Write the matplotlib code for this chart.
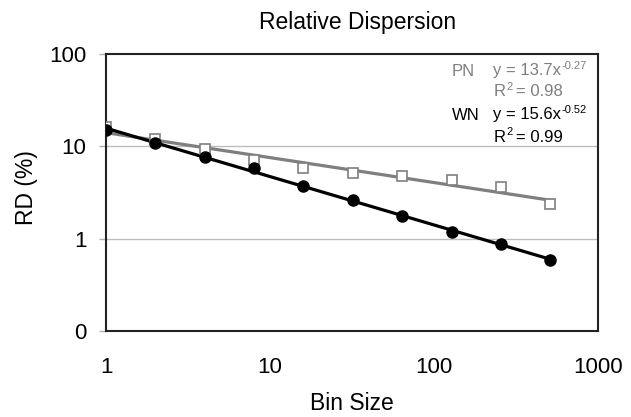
import matplotlib
matplotlib.use("Agg")
import matplotlib.pyplot as plt
import numpy as np

plt.rcParams["font.family"] = ["Liberation Sans", "DejaVu Sans"]

# bin sizes and relative dispersion (%)
bin_size = [1, 2, 4, 8, 16, 32, 64, 128, 256, 512]
rd_pn = [16.1, 11.9, 9.3, 7.2, 5.8, 5.1, 4.8, 4.3, 3.6, 2.35]
rd_wn = [14.9, 10.8, 7.6, 5.8, 3.7, 2.65, 1.75, 1.18, 0.87, 0.59]
ytick_vals = [0.1, 1, 10, 100]
ytick_labels = ["0", "1", "10", "100"]
xtick_vals = [1, 10, 100, 1000]
xtick_labels = ["1", "10", "100", "1000"]

GRAY = "#7f7f7f"
W, H = 631, 417

fig = plt.figure(figsize=(6.31, 4.17), dpi=100)
ax = fig.add_axes([106 / W, 1 - 331 / H, 492 / W, 277 / H])

x = np.array(bin_size, dtype=float)

# power-law trendlines fitted in log space
def trend(y):
    b, a = np.polyfit(np.log(x), np.log(y), 1)
    return np.exp(a) * x ** b

ax.plot(x, trend(rd_pn), color=GRAY, lw=2.3, zorder=3)
ax.plot(x, rd_pn, ls="none", marker="s", ms=6.5, mfc="white", mec=GRAY, mew=1.2, zorder=4)
ax.plot(x, trend(rd_wn), color="black", lw=2.3, zorder=3)
ax.plot(x, rd_wn, ls="none", marker="o", ms=8, color="black", zorder=5)

ax.set_xscale("log")
ax.set_yscale("log")
ax.set_xlim(1, 1000)
ax.set_ylim(0.1, 100)
ax.set_yticks(ytick_vals)
ax.set_yticklabels(ytick_labels, fontsize=16)
ax.set_xticks(xtick_vals)
ax.set_xticklabels(xtick_labels, fontsize=16)
ax.minorticks_off()
ax.tick_params(axis="y", length=5, color="#b0b0b0", width=1, pad=9)
ax.tick_params(axis="x", length=0, pad=19)
for yv in [1, 10]:
    ax.axhline(yv, color="#bdbdbd", lw=1, zorder=1)
for s in ax.spines.values():
    s.set_linewidth(1.5)
    s.set_color("#222222")

fig.text(352 / W, 1 - 403 / H, "Bin Size", ha="center", va="center", fontsize=16.5)
fig.text(26 / W, 1 - 188 / H, "RD (%)", ha="center", va="center", rotation=90, fontsize=16.5)
fig.text(358 / W, 1 - 22 / H, "Relative Dispersion", ha="center", va="center", fontsize=16.5)

# trendline annotations
fs = 12
sup = 8

def eq(xp, yp, base, expo, color):
    t = fig.text(xp / W, 1 - yp / H, base, color=color, fontsize=fs, va="center")
    ax.annotate(expo, xy=(1, 1), xycoords=t, xytext=(0.5, -2), textcoords="offset points",
                ha="left", va="center", fontsize=sup, color=color)

fig.text(452 / W, 1 - 71 / H, "PN", color=GRAY, fontsize=fs, va="center")
eq(493, 71, "y = 13.7x", "-0.27", GRAY)
eq(494, 92, "R", "2", GRAY)
fig.text(516 / W, 1 - 92 / H, "= 0.98", color=GRAY, fontsize=fs, va="center")
fig.text(452 / W, 1 - 115 / H, "WN", color="black", fontsize=fs, va="center")
eq(493, 115, "y = 15.6x", "-0.52", "black")
eq(494, 137, "R", "2", "black")
fig.text(516 / W, 1 - 137 / H, "= 0.99", color="black", fontsize=fs, va="center")

fig.savefig("out.png", dpi=100)
